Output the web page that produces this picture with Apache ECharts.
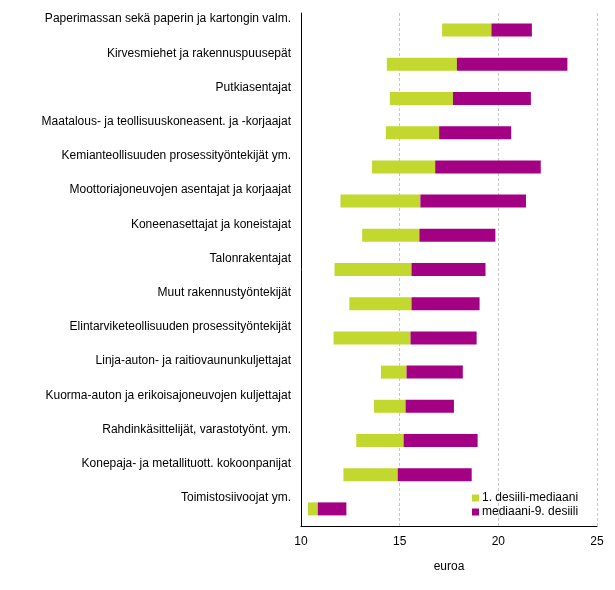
<!DOCTYPE html>
<html><head><meta charset="utf-8">
<script src="https://cdn.jsdelivr.net/npm/echarts@6/dist/echarts.min.js"></script>
<style>html,body{margin:0;padding:0;background:#fff}#c{width:615px;height:590px}</style>
</head><body><div id="c"></div>
<script>
const categories = [
  "Paperimassan sekä paperin ja kartongin valm.",
  "Kirvesmiehet ja rakennuspuusepät",
  "Putkiasentajat",
  "Maatalous- ja teollisuuskoneasent. ja -korjaajat",
  "Kemianteollisuuden prosessityöntekijät ym.",
  "Moottoriajoneuvojen asentajat ja korjaajat",
  "Koneenasettajat ja koneistajat",
  "Talonrakentajat",
  "Muut rakennustyöntekijät",
  "Elintarviketeollisuuden prosessityöntekijät",
  "Linja-auton- ja raitiovaununkuljettajat",
  "Kuorma-auton ja erikoisajoneuvojen kuljettajat",
  "Rahdinkäsittelijät, varastotyönt. ym.",
  "Konepaja- ja metallituott. kokoonpanijat",
  "Toimistosiivoojat ym."
];
const decile1 = [17.15, 14.35, 14.5, 14.3, 13.6, 12.0, 13.1, 11.7, 12.45, 11.65, 14.05, 13.7, 12.8, 12.15, 10.35];
const median  = [19.65, 17.9, 17.7, 17.0, 16.8, 16.05, 16.0, 15.6, 15.6, 15.55, 15.35, 15.3, 15.2, 14.9, 10.85];
const decile9 = [21.7, 23.5, 21.65, 20.65, 22.15, 21.4, 19.85, 19.35, 19.05, 18.9, 18.2, 17.75, 18.95, 18.65, 12.3];
const xTicks = [10, 15, 20, 25];
const seriesNames = ["1. desiili-mediaani", "mediaani-9. desiili"];

const lowPart = decile1.map((d, i) => +(median[i] - d).toFixed(3));
const highPart = decile9.map((d, i) => +(d - median[i]).toFixed(3));

const chart = echarts.init(document.getElementById('c'));
const font = 'Liberation Sans, Arial, sans-serif';
chart.setOption({
  animation: false,
  textStyle: { fontFamily: font },
  grid: { left: 301, right: 18, top: 13, bottom: 64 },
  legend: {
    orient: 'vertical', left: 472, top: 491, padding: 0,
    itemWidth: 7, itemHeight: 7, itemGap: 0,
    icon: 'rect',
    textStyle: { fontFamily: font, fontSize: 12, color: '#000', padding: [0, 0, 0, -2], lineHeight: 14 },
    data: seriesNames
  },
  xAxis: {
    type: 'value', min: xTicks[0], max: xTicks[xTicks.length - 1], interval: 5,
    name: 'euroa', nameLocation: 'middle', nameGap: 35,
    nameTextStyle: { fontFamily: font, fontSize: 12, color: '#000' },
    axisLine: { show: true, lineStyle: { color: '#000', width: 1 } },
    axisTick: { show: false },
    axisLabel: { fontFamily: font, fontSize: 12, color: '#000', margin: 10 },
    splitLine: { show: true, lineStyle: { color: '#c8c8c8', type: [3, 2], width: 1 } }
  },
  yAxis: {
    type: 'category', inverse: true, data: categories,
    axisLine: { show: true, lineStyle: { color: '#000', width: 1 } },
    axisTick: { show: false },
    axisLabel: { fontFamily: font, fontSize: 12, color: '#000', margin: 10,
      verticalAlign: 'bottom', padding: [0, 0, 5, 0] },
    splitLine: { show: false }
  },
  series: [
    { type: 'bar', stack: 's', data: decile1, barWidth: 13,
      itemStyle: { color: 'rgba(0,0,0,0)' }, silent: true, tooltip: { show: false } },
    { name: seriesNames[0], type: 'bar', stack: 's', data: lowPart, barWidth: 13,
      itemStyle: { color: '#C2D82E' } },
    { name: seriesNames[1], type: 'bar', stack: 's', data: highPart, barWidth: 13,
      itemStyle: { color: '#A30083' } }
  ]
});
</script></body></html>
